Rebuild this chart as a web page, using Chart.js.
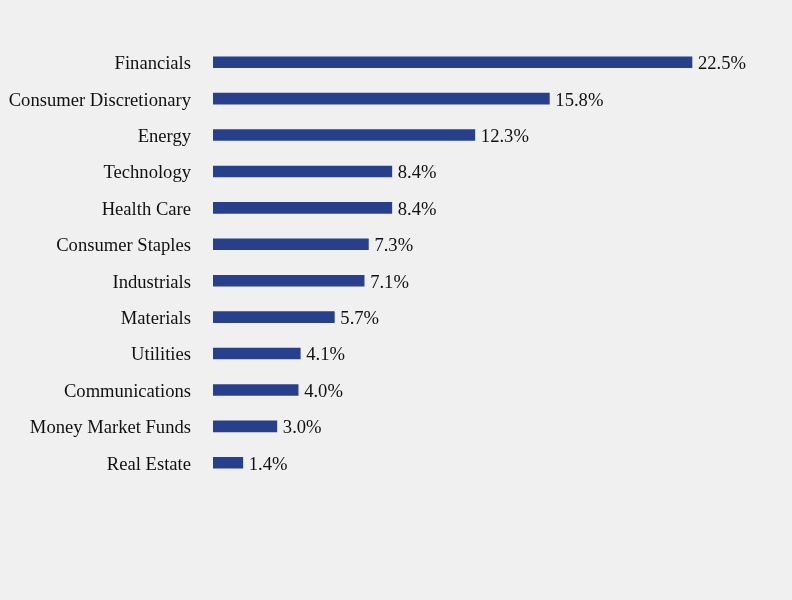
<!DOCTYPE html>
<html>
<head>
<style>
  html, body { margin: 0; padding: 0; background: #f0f0f0; }
  #wrap { width: 792px; height: 600px; }
</style>
</head>
<body>
<div id="wrap"><canvas id="sector-chart" width="792" height="600"></canvas></div>
<script src="https://cdn.jsdelivr.net/npm/chart.js@4.4.1/dist/chart.umd.min.js"></script>
<script>
// sector weights, % of portfolio
var sectors = ["Financials", "Consumer Discretionary", "Energy", "Technology", "Health Care",
  "Consumer Staples", "Industrials", "Materials", "Utilities", "Communications",
  "Money Market Funds", "Real Estate"];
var weights = [22.5, 15.8, 12.3, 8.4, 8.4, 7.3, 7.1, 5.7, 4.1, 4.0, 3.0, 1.4];

var labelFont = "18.6px 'Liberation Serif', 'Times New Roman', serif";

// write the % value just after the end of each bar
var valueLabels = {
  id: 'valueLabels',
  afterDatasetsDraw: function(chart) {
    var ctx = chart.ctx;
    var meta = chart.getDatasetMeta(0);
    ctx.save();
    ctx.font = labelFont;
    ctx.fillStyle = '#111';
    ctx.textAlign = 'left';
    ctx.textBaseline = 'middle';
    meta.data.forEach(function(bar, i) {
      ctx.fillText(weights[i].toFixed(1) + '%', bar.x + 6, bar.y + 2);
    });
    ctx.restore();
  }
};

new Chart(document.getElementById("sector-chart"), {
  type: 'bar',
  data: {
    labels: sectors,
    datasets: [{
      data: weights,
      backgroundColor: '#283f8c',
      borderWidth: 0,
      barThickness: 11
    }]
  },
  options: {
    indexAxis: 'y',
    responsive: false,
    animation: false,
    layout: { padding: { top: 44, bottom: 119, left: 0, right: 25.5 } },
    plugins: {
      legend: { display: false },
      tooltip: { enabled: false }
    },
    scales: {
      x: {
        display: false,
        min: 0,
        max: 26
      },
      y: {
        grid: { display: false, drawTicks: false },
        border: { display: false },
        ticks: {
          color: '#111',
          padding: 22,
          labelOffset: 2,
          font: { family: "'Liberation Serif', 'Times New Roman', serif", size: 18.6 }
        },
        afterFit: function(scale) { scale.width = 213; }
      }
    }
  },
  plugins: [valueLabels]
});
</script>
</body>
</html>
